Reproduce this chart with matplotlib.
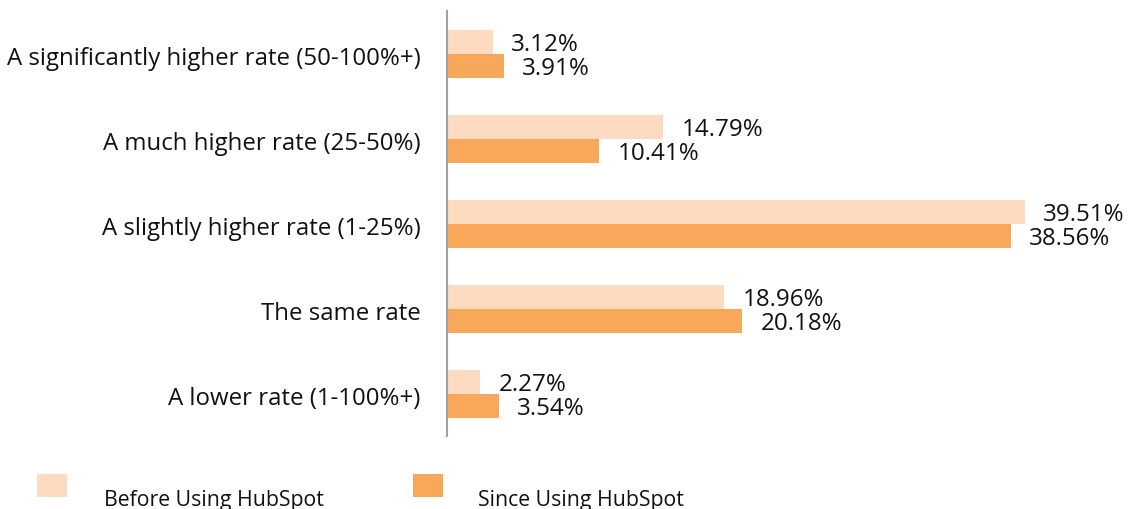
import matplotlib
matplotlib.use("Agg")
import matplotlib.pyplot as plt
from matplotlib.patches import Rectangle
import matplotlib.transforms as mtransforms
import numpy as np

plt.rcParams['font.family'] = ['Open Sans', 'DejaVu Sans']

categories = ["A significantly higher rate (50-100%+)",
              "A much higher rate (25-50%)",
              "A slightly higher rate (1-25%)",
              "The same rate",
              "A lower rate (1-100%+)"]
before = [3.12, 14.79, 39.51, 18.96, 2.27]
since = [3.91, 10.41, 38.56, 20.18, 3.54]
series_names = ["Before Using HubSpot", "Since Using HubSpot"]
colors = ["#FDDBC0", "#F9A85A"]

W, H = 1128, 510
fig = plt.figure(figsize=(W/100, H/100), dpi=100)
ax_left, ax_right, ax_top, ax_bot = 447, 1100, 12, 437
ax = fig.add_axes([ax_left/W, 1-ax_bot/H, (ax_right-ax_left)/W, (ax_bot-ax_top)/H])

px_per_pct = 14.63
ax.set_xlim(0, (ax_right-ax_left)/px_per_pct)
y = np.arange(len(categories))
ax.set_ylim(len(categories)-0.5, -0.5)
bh = 24/85
ax.barh(y - bh/2, before, height=bh, color=colors[0])
ax.barh(y + bh/2, since, height=bh, color=colors[1])

fs = 17.4
for yi, v in zip(y - bh/2, before):
    ax.annotate(f"{v:.2f}%", (v, yi), xytext=(13, -1.5), textcoords="offset points",
                va="center", ha="left", fontsize=fs, color="#111111")
for yi, v in zip(y + bh/2, since):
    ax.annotate(f"{v:.2f}%", (v, yi), xytext=(13, -2), textcoords="offset points",
                va="center", ha="left", fontsize=fs, color="#111111")

ax.set_yticks(y)
ax.set_yticklabels(categories, fontsize=17.25, color="#111111")
ax.tick_params(axis="y", length=0, pad=19)
off = mtransforms.ScaledTranslation(0, -2/100, fig.dpi_scale_trans)
for lab in ax.get_yticklabels():
    lab.set_transform(lab.get_transform() + off)
ax.set_xticks([])
for s in ["top", "right", "bottom"]:
    ax.spines[s].set_visible(False)
ax.spines["left"].set_color("#A0A0A0")
ax.spines["left"].set_linewidth(1.5)

# legend
for (x0, tx), name, c in zip([(37, 104), (413, 478)], series_names, colors):
    fig.patches.append(Rectangle((x0/W, 1-498/H), 30/W, 23/H, transform=fig.transFigure,
                                 facecolor=c, edgecolor="none"))
    fig.text(tx/W, 1-506/H, name, fontsize=15.3, color="#111111", va="baseline", ha="left")

fig.savefig("out.png", dpi=100)
